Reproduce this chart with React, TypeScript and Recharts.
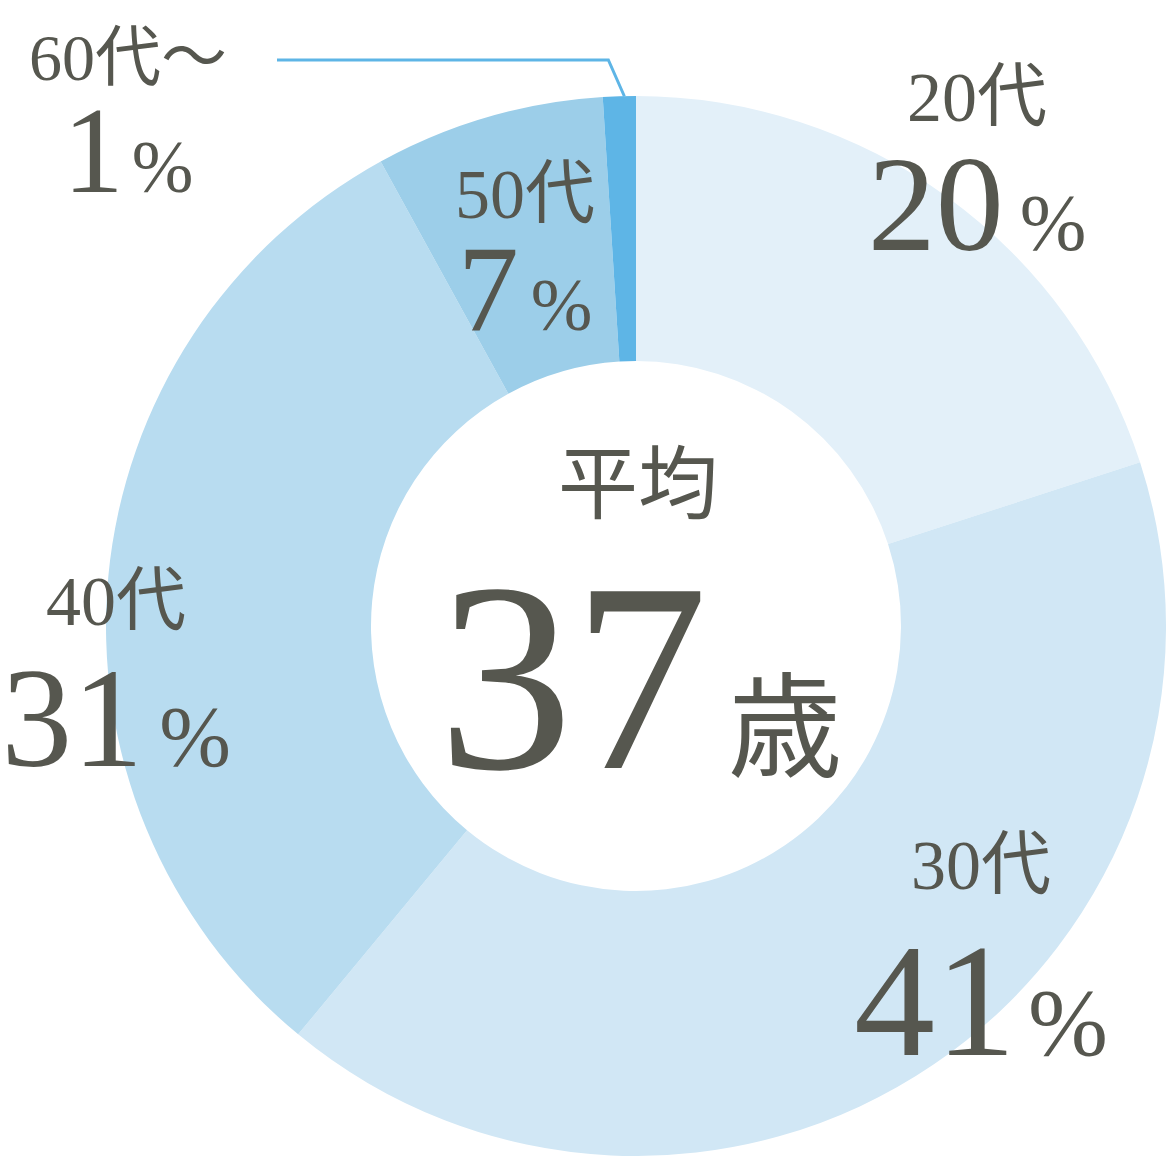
import React from 'react';
import { PieChart, Pie, Cell } from 'recharts';

// age groups, clockwise from 12 o'clock
const AGE_GROUPS = ['20代', '30代', '40代', '50代', '60代～'];
const SHARES = [20, 41, 31, 7, 1];
const SLICE_COLORS = ['#e3f0f9', '#d1e7f5', '#b8dcf0', '#9ccee9', '#5eb5e6'];

const AVERAGE_LABEL = '平均';
const AVERAGE_AGE = 37;
const AGE_UNIT = '歳';

const TEXT_COLOR = '#56574f';
const FONT = "'Liberation Serif', 'Noto Sans CJK JP', serif";

// label layout relative to the pie centre: x offset, baseline of name line, baseline of value line, font sizes
const LABEL_LAYOUT = [
  { dx: 341, nameY: -505, valueY: -376, nameSize: 70, numSize: 136, pctSize: 80, gap: 16 },
  { dx: 345, nameY: 263, valueY: 429, nameSize: 70, numSize: 162, pctSize: 96, gap: 12 },
  { dx: -520, nameY: -1, valueY: 140, nameSize: 70, numSize: 142, pctSize: 86, gap: 16 },
  { dx: -111, nameY: -408, valueY: -296, nameSize: 70, numSize: 122, pctSize: 74, gap: 12 },
  { dx: -508, nameY: -546, valueY: -434, nameSize: 66, numSize: 122, pctSize: 74, gap: 8 },
];

const data = AGE_GROUPS.map((name, i) => ({ name, value: SHARES[i], fill: SLICE_COLORS[i] }));

const RADIAN = Math.PI / 180;

const SliceLabel = (props: any) => {
  const { cx, cy, index, midAngle, outerRadius, value, name } = props;
  const l = LABEL_LAYOUT[index];
  const x = cx + l.dx;
  let leader = null;
  if (index === 4) {
    // leader line for the tiny 60代 slice
    const sx = cx + outerRadius * Math.cos(-midAngle * RADIAN) + 5;
    const sy = cy + outerRadius * Math.sin(-midAngle * RADIAN);
    const ky = cy + l.nameY - 20;
    const kx = sx - 16;
    leader = (
      <polyline
        points={`${sx},${sy} ${kx},${ky} ${x + 149},${ky}`}
        fill="none"
        stroke={SLICE_COLORS[4]}
        strokeWidth={3}
      />
    );
  }
  return (
    <g>
      {leader}
      <text x={x} y={cy + l.nameY} textAnchor="middle" fill={TEXT_COLOR} fontFamily={FONT} fontSize={l.nameSize}>
        {name}
      </text>
      <text x={x} y={cy + l.valueY} textAnchor="middle" fill={TEXT_COLOR} fontFamily={FONT}>
        <tspan fontSize={l.numSize}>{value}</tspan>
        <tspan fontSize={l.pctSize} dx={l.gap}>%</tspan>
      </text>
    </g>
  );
};

const CenterLabel = ({ cx, cy }: { cx: number; cy: number }) => (
  <g>
    <text x={cx + 2} y={cy - 114} textAnchor="middle" fill={TEXT_COLOR} fontFamily={FONT} fontSize={80}>
      {AVERAGE_LABEL}
    </text>
    <text x={cx + 4} y={cy + 142} textAnchor="middle" fill={TEXT_COLOR} fontFamily={FONT}>
      <tspan fontSize={270}>{AVERAGE_AGE}</tspan>
      <tspan fontSize={114} dx={20}>{AGE_UNIT}</tspan>
    </text>
  </g>
);

const App: React.FC = () => {
  const cx = 636;
  const cy = 626;
  return (
    <div style={{ position: 'absolute', left: 0, top: 0, width: 1166, height: 1156, background: '#fff' }}>
      <PieChart width={1166} height={1156} margin={{ top: 0, right: 0, bottom: 0, left: 0 }}>
        <Pie
          data={data}
          dataKey="value"
          nameKey="name"
          cx={cx}
          cy={cy}
          innerRadius={265}
          outerRadius={530}
          startAngle={90}
          endAngle={-270}
          stroke="none"
          label={SliceLabel}
          labelLine={false}
          isAnimationActive={false}
        >
          {data.map((d) => (
            <Cell key={d.name} fill={d.fill} />
          ))}
        </Pie>
        <CenterLabel cx={cx} cy={cy} />
      </PieChart>
    </div>
  );
};

export default App;
